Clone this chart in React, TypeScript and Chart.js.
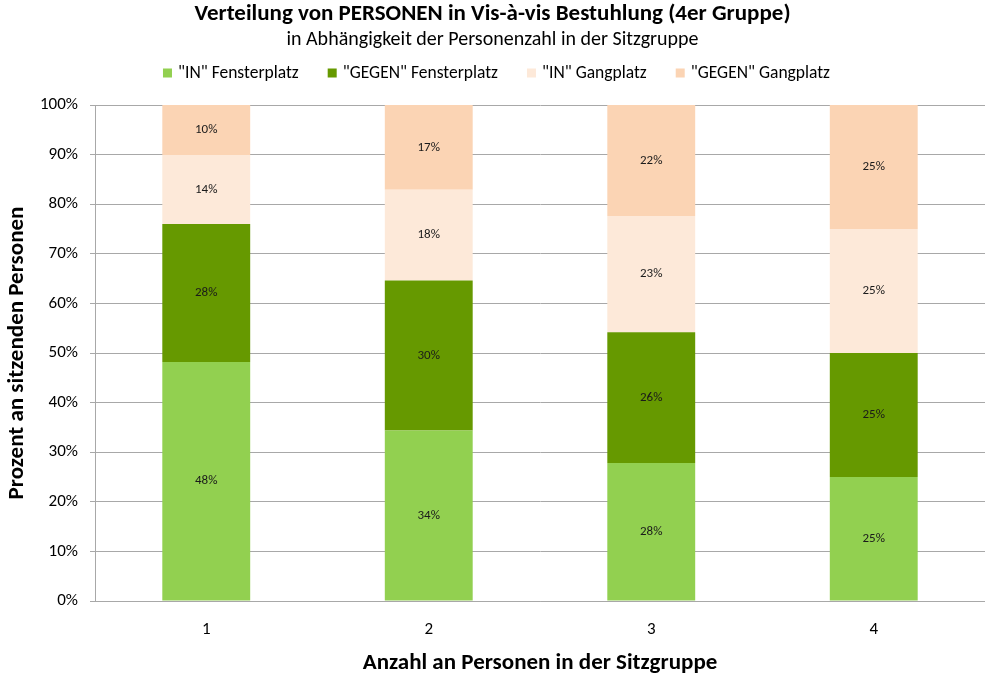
import React, { useEffect, useRef } from "react";
import { Chart, registerables } from "chart.js";

Chart.register(...registerables);

const FONT = "Carlito, Lato, sans-serif";

const categories = ["1", "2", "3", "4"];
const seriesNames = ['"IN" Fensterplatz', '"GEGEN" Fensterplatz', '"IN" Gangplatz', '"GEGEN" Gangplatz'];
const seriesColors = ["#92d050", "#669900", "#fde9d9", "#fbd4b4"];
const inFenster = [48.2, 34.4, 27.8, 25.0];
const gegenFenster = [27.8, 30.2, 26.4, 25.0];
const inGang = [13.9, 18.3, 23.4, 25.0];
const gegenGang = [10.1, 17.1, 22.4, 25.0];
const yTicks = [0, 10, 20, 30, 40, 50, 60, 70, 80, 90, 100];

const titleText = "Verteilung von PERSONEN in Vis-à-vis Bestuhlung (4er Gruppe)";
const subtitleText = "in Abhängigkeit der Personenzahl in der Sitzgruppe";
const yTitle = "Prozent an sitzenden Personen";
const xTitle = "Anzahl an Personen in der Sitzgruppe";

const GRID = "#a8a8a8";

const dataLabelPlugin = {
  id: "dataLabels",
  afterDatasetsDraw(chart: any) {
    const ctx = chart.ctx;
    ctx.save();
    ctx.font = `13px ${FONT}`;
    ctx.fillStyle = "#1a1a1a";
    ctx.textAlign = "center";
    ctx.textBaseline = "middle";
    chart.data.datasets.forEach((ds: any, di: number) => {
      const meta = chart.getDatasetMeta(di);
      meta.data.forEach((el: any, i: number) => {
        const v = ds.data[i];
        const cy = (el.y + el.base) / 2;
        ctx.fillText(Math.round(v) + "%", el.x, cy);
      });
    });
    ctx.restore();
  },
};

const legendPlugin = {
  id: "customLegend",
  afterDraw(chart: any) {
    const ctx = chart.ctx;
    ctx.save();
    ctx.font = `17.5px ${FONT}`;
    ctx.textBaseline = "middle";
    const box = 9;
    const gapBoxText = 6;
    const itemGap = 29;
    const items = chart.data.datasets.map((ds: any) => ({
      text: ds.label,
      color: ds.backgroundColor,
      w: ctx.measureText(ds.label).width,
    }));
    const total =
      items.reduce((s: number, it: any) => s + box + gapBoxText + it.w, 0) +
      itemGap * (items.length - 1);
    let x = 496.5 - total / 2;
    const cy = 73;
    items.forEach((it: any) => {
      ctx.fillStyle = it.color;
      ctx.fillRect(x, cy - box / 2, box, box);
      x += box + gapBoxText;
      ctx.fillStyle = "#000";
      ctx.textAlign = "left";
      ctx.fillText(it.text, x, cy + 1);
      x += it.w + itemGap;
    });
    ctx.restore();
  },
};

export default function App() {
  const ref = useRef<HTMLCanvasElement>(null);
  useEffect(() => {
    if (!ref.current) return;
    const makeDs = (i: number, data: number[]) => ({
      label: seriesNames[i],
      data,
      backgroundColor: seriesColors[i],
      borderWidth: 0,
      categoryPercentage: 1,
      barPercentage: 0.395,
    });
    const chart = new Chart(ref.current, {
      type: "bar",
      data: {
        labels: categories,
        datasets: [
          makeDs(0, inFenster),
          makeDs(1, gegenFenster),
          makeDs(2, inGang),
          makeDs(3, gegenGang),
        ],
      },
      options: {
        responsive: false,
        animation: false,
        layout: { padding: { left: 0, right: 0, top: 0, bottom: 0 } },
        plugins: {
          legend: { display: false },
          tooltip: { enabled: false },
          title: {
            display: true,
            text: titleText,
            color: "#000",
            font: { family: FONT, size: 23, weight: "bold" },
            padding: { top: 0, bottom: 0 },
          },
          subtitle: {
            display: true,
            text: subtitleText,
            color: "#000",
            font: { family: FONT, size: 20 },
            padding: { top: 0, bottom: 53.4 },
          },
        },
        scales: {
          x: {
            stacked: true,
            grid: { display: false, drawTicks: false },
            border: { display: true, color: GRID, width: 1 },
            ticks: {
              color: "#000",
              font: { family: FONT, size: 17 },
              padding: 19,
            },
            title: {
              display: true,
              text: xTitle,
              color: "#000",
              font: { family: FONT, size: 23, weight: "bold" },
              padding: { top: 0, bottom: -3 },
            },
            afterFit(scale: any) {
              scale.height = 73;
            },
          },
          y: {
            stacked: true,
            min: 0,
            max: 100,
            afterBuildTicks(scale: any) {
              scale.ticks = yTicks.map((v) => ({ value: v }));
            },
            grid: { color: GRID, lineWidth: 1, drawTicks: true, tickLength: 5 },
            border: { display: true, color: GRID, width: 1 },
            ticks: {
              color: "#000",
              font: { family: FONT, size: 17 },
              padding: 12,
              callback: (v: any) => v + "%",
            },
            title: {
              display: true,
              text: yTitle,
              color: "#000",
              font: { family: FONT, size: 23, weight: "bold" },
              padding: { top: 3, bottom: 0 },
            },
            afterFit(scale: any) {
              scale.width = 95;
            },
          },
        },
      },
      plugins: [dataLabelPlugin, legendPlugin],
    });
    return () => chart.destroy();
  }, []);
  return (
    <div style={{ position: "fixed", left: 0, top: 0, width: 985, height: 674, background: "#fff" }}>
      <canvas ref={ref} width={985} height={674} style={{ display: "block" }} />
    </div>
  );
}
